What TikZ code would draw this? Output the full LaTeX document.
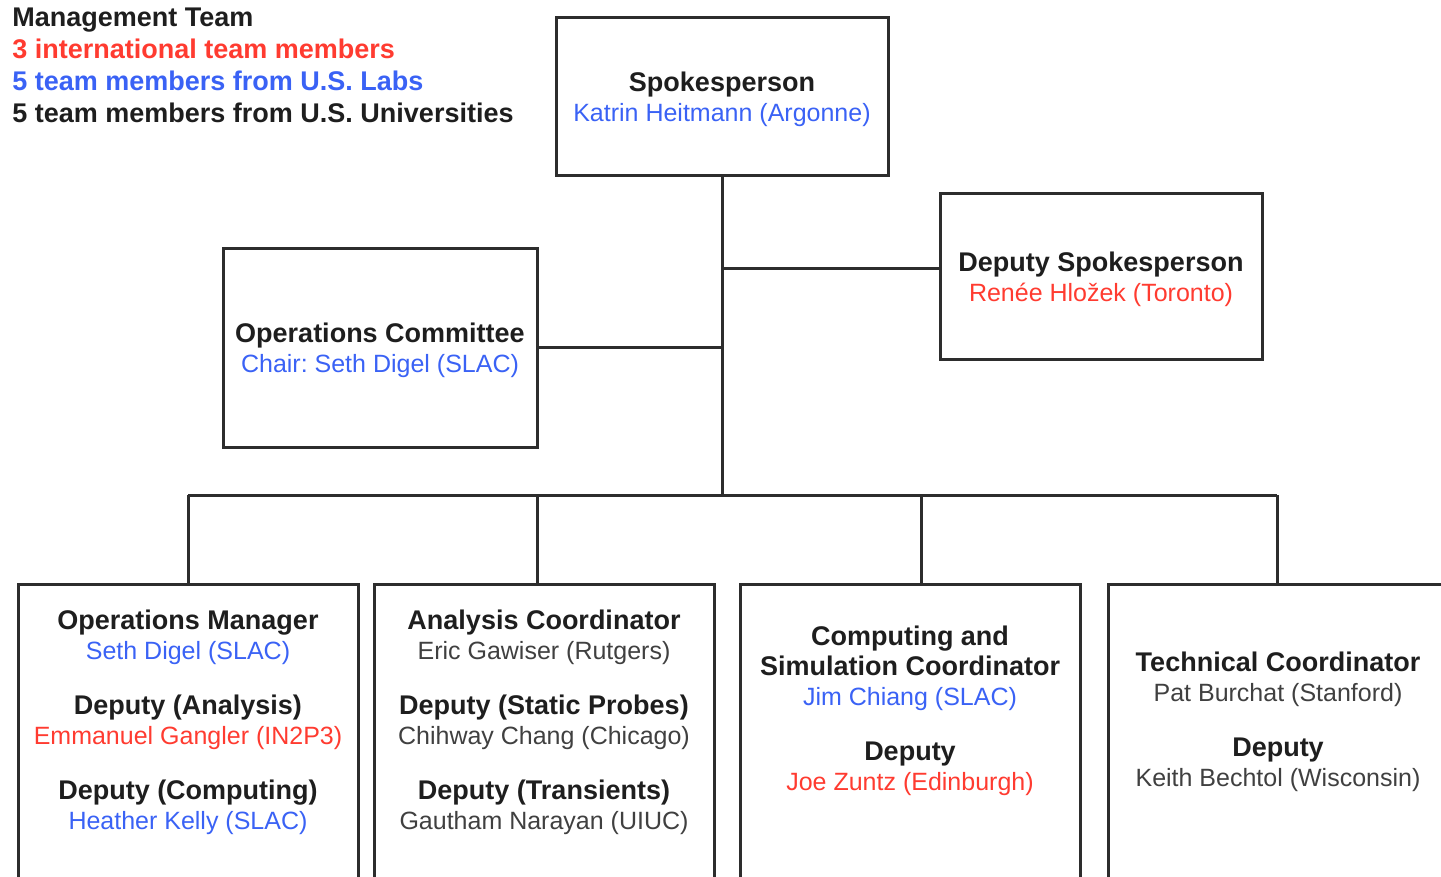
\documentclass[tikz,border=0pt]{standalone}
\usepackage{fontspec}
\setmainfont{Liberation Sans}
\frenchspacing
\definecolor{labblue}{RGB}{58,98,245}
\definecolor{intlred}{RGB}{255,59,48}
\definecolor{unigray}{RGB}{64,64,64}
\definecolor{headgray}{RGB}{30,30,30}
\definecolor{framegray}{RGB}{45,45,45}
\newcommand{\labname}[1]{\textcolor{labblue}{#1}}
\newcommand{\intlname}[1]{\textcolor{intlred}{#1}}
\newcommand{\uniname}[1]{\textcolor{unigray}{#1}}
\newcommand{\role}[1]{{\fontsize{13.5}{15}\selectfont\bfseries #1}}
\tikzset{
	frame/.style={draw=framegray, line width=1.5pt, rectangle, inner sep=0pt},
	roletext/.style={align=center, text=headgray, font=\fontsize{12.5}{15}\selectfont},
	link/.style={draw=framegray, line width=1.5pt},
}
\begin{document}
\begin{tikzpicture}[x=0.5pt, y=-0.5pt]
			\useasboundingbox (0,0) rectangle (1441,877);
			\clip (0,0) rectangle (1441,877);
			% legend
			\node[anchor=north west, align=left, inner sep=0pt, text=headgray, font=\fontsize{13.5}{16}\selectfont\bfseries] (legend) at (12,8) {Management Team\\ \intlname{3 international team members}\\ \labname{5 team members from U.S. Labs}\\ 5 team members from U.S. Universities};
			% top boxes
			\node[frame, roletext, text depth=0pt, minimum width=166pt, minimum height=79pt] (spk) at (722,97) {\role{Spokesperson}\\ \labname{Katrin Heitmann (Argonne)}};
			\node[frame, roletext, text depth=0pt, minimum width=161pt, minimum height=83pt] (dspk) at (1101,277) {\role{Deputy Spokesperson}\\ \intlname{Renée Hložek (Toronto)}};
			\node[frame, roletext, text depth=0pt, minimum width=157pt, minimum height=99pt] (opc) at (380,348) {\role{Operations Committee}\\ \labname{Chair: Seth Digel (SLAC)}};
			% bottom boxes
			\node[frame, anchor=north, minimum width=170pt, minimum height=160pt] (mgr) at (188,583) {};
			\node[frame, anchor=north, minimum width=170pt, minimum height=160pt] (ana) at (544,583) {};
			\node[frame, anchor=north, minimum width=170pt, minimum height=160pt] (cmp) at (910,583) {};
			\node[frame, anchor=north, minimum width=170pt, minimum height=160pt] (tec) at (1278,583) {};
			\node[roletext] (mgrtxt) at (188,722) {\role{Operations Manager}\\ \labname{Seth Digel (SLAC)}\\[12.5pt] \role{Deputy (Analysis)}\\ \intlname{Emmanuel Gangler (IN2P3)}\\[12.5pt] \role{Deputy (Computing)}\\ \labname{Heather Kelly (SLAC)}};
			\node[roletext] (anatxt) at (544,722) {\role{Analysis Coordinator}\\ \uniname{Eric Gawiser (Rutgers)}\\[12.5pt] \role{Deputy (Static Probes)}\\ \uniname{Chihway Chang (Chicago)}\\[12.5pt] \role{Deputy (Transients)}\\ \uniname{Gautham Narayan (UIUC)}};
			\node[roletext] (cmptxt) at (910,711) {\role{Computing and}\\ \role{Simulation Coordinator}\\ \labname{Jim Chiang (SLAC)}\\[12.5pt] \role{Deputy}\\ \intlname{Joe Zuntz (Edinburgh)}};
			\node[roletext] (tectxt) at (1278,722) {\role{Technical Coordinator}\\ \uniname{Pat Burchat (Stanford)}\\[12.5pt] \role{Deputy}\\ \uniname{Keith Bechtol (Wisconsin)}};
			% connectors
			\coordinate (hub) at (722,495);
			\coordinate (busl) at (188,495);
			\coordinate (busr) at (1277,495);
			\draw[link] (spk.south) -- (hub);
			\draw[link] ([yshift=4pt]dspk.west) -- ([yshift=4pt]dspk.west -| spk.south);
			\draw[link] (opc.east) -- (opc.east -| spk.south);
			\draw[link] (busl) -- (busr);
			\foreach \x/\b in {188/mgr, 537/ana, 921/cmp, 1277/tec}
				\draw[link] (\x,495) -- (\b.north -| \x,0);
		\end{tikzpicture}
\end{document}
